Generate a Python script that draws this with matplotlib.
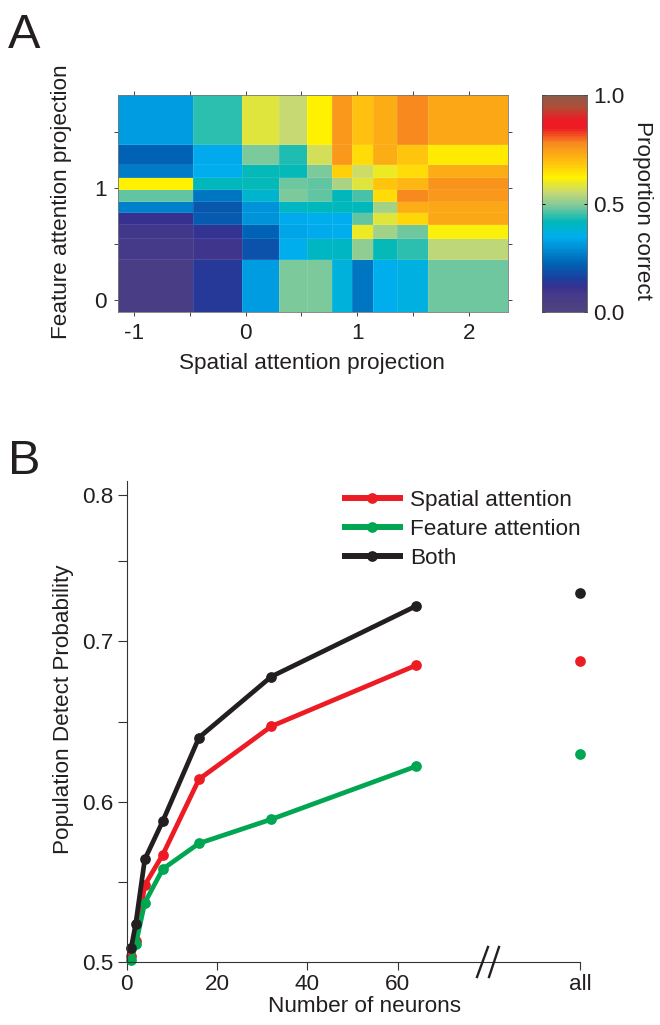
import numpy as np
import matplotlib
matplotlib.use("Agg")
import matplotlib.pyplot as plt
from matplotlib.colors import LinearSegmentedColormap
from matplotlib.lines import Line2D

plt.rcParams['font.family'] = ['Liberation Sans', 'DejaVu Sans']
W, H = 660, 1025
INK = '#231f20'
FS = 16.2

# Panel A data
x_edges = [-1.143, -0.472, -0.033, 0.301, 0.546, 0.773, 0.952, 1.137, 1.352, 1.633, 2.349]
y_edges = [-0.107, 0.364, 0.552, 0.684, 0.788, 0.889, 0.997, 1.096, 1.212, 1.394, 1.833]
row_0 = [.05, .14, .32, .49, .49, .37, .25, .35, .36, .48]
row_1 = [.08, .10, .19, .35, .40, .40, .50, .42, .44, .54]
row_2 = [.09, .12, .22, .33, .34, .35, .60, .52, .48, .61]
row_3 = [.11, .21, .30, .34, .35, .35, .47, .58, .66, .73]
row_4 = [.27, .20, .30, .40, .41, .41, .41, .52, .72, .73]
row_5 = [.47, .25, .39, .49, .47, .41, .46, .65, .78, .75]
row_6 = [.62, .41, .42, .48, .47, .53, .58, .68, .71, .76]
row_7 = [.26, .35, .42, .42, .49, .67, .56, .60, .65, .72]
row_8 = [.22, .34, .49, .43, .57, .75, .65, .72, .68, .63]
row_9 = [.32, .44, .58, .55, .62, .75, .69, .72, .78, .73]
rows = [row_0, row_1, row_2, row_3, row_4, row_5, row_6, row_7, row_8, row_9]

# Panel B data
neurons = [1, 2, 4, 8, 16, 32, 64]
spatial = [.504, .513, .548, .567, .614, .647, .685]
feature = [.501, .511, .537, .558, .574, .589, .622]
both = [.509, .524, .564, .588, .640, .678, .722]
all_pos = 100.3
all_spatial, all_feature, all_both = .688, .630, .730

cmap = LinearSegmentedColormap.from_list('muted_jet', [
    (0.00, '#4f4380'), (0.08, '#453a8a'), (0.11, '#38308f'), (0.15, '#1b3f9e'),
    (0.22, '#0062b4'), (0.28, '#0087d0'), (0.345, '#00aeef'), (0.415, '#00b8b8'),
    (0.49, '#7fc99b'), (0.55, '#c5d975'), (0.62, '#fff200'), (0.69, '#ffc20e'),
    (0.78, '#f7891f'), (0.85, '#ed1c24'), (0.89, '#ed1c24'), (0.95, '#ad4e37'),
    (1.00, '#8d5a4a')], N=128)


def rect(l, t, r, b):
    return [l / W, 1 - b / H, (r - l) / W, (b - t) / H]


def ft(x, y, s, **kw):
    kw.setdefault('color', INK)
    fig.text(x / W, 1 - y / H, s, **kw)


fig = plt.figure(figsize=(W / 100, H / 100), dpi=100)

# Panel A heatmap
ax = fig.add_axes(rect(118, 95, 508, 312))
ax.pcolormesh(x_edges, y_edges, np.array(rows), cmap=cmap, vmin=0, vmax=1,
              edgecolors=(1, 1, 1, 0.10), linewidth=0.5)
ax.set_xlim(x_edges[0], x_edges[-1])
ax.set_ylim(y_edges[0], y_edges[-1])
ax.set_xticks([-1, 0, 1, 2])
ax.set_xticks([-0.5, 0.5, 1.5], minor=True)
ax.set_yticks([0, 1])
ax.set_yticks([0.5, 1.5], minor=True)
ax.set_xticklabels(['-1', '0', '1', '2'])
for which in ('major', 'minor'):
    ax.tick_params(which=which, direction='out', top=True, right=True, length=3,
                   width=0.7, color='#444444')
ax.tick_params(which='major', labelsize=FS, labelcolor=INK, pad=5)
for s in ax.spines.values():
    s.set_linewidth(0.6)
    s.set_color('#777777')

# Colorbar
cax = fig.add_axes(rect(542, 95, 587, 312))
levels = np.linspace(0, 1, 129)
cax.pcolormesh([0, 1], levels, ((levels[:-1] + levels[1:]) / 2)[:, None], cmap=cmap,
               vmin=0, vmax=1)
cax.set_xticks([])
cax.set_yticks([0, 0.5, 1])
cax.set_yticklabels(['0.0', '0.5', '1.0'])
cax.yaxis.tick_right()
cax.tick_params(axis='y', direction='in', left=True, right=True, length=2, width=0.7,
                labelsize=FS, labelcolor=INK, pad=4.5)
for s in cax.spines.values():
    s.set_linewidth(0.6)
    s.set_color('#555555')

ft(312, 363, 'Spatial attention projection', fontsize=FS, ha='center', va='center')
ft(62, 202, 'Feature attention projection', fontsize=FS, rotation=90, ha='center', va='center')
ft(642, 210, 'Proportion correct', fontsize=FS, rotation=270, ha='center', va='center')
ft(24, 35, 'A', fontsize=35, ha='center', va='center')
ft(24, 461, 'B', fontsize=35, ha='center', va='center')

# Panel B
bx = fig.add_axes(rect(126.7, 481, 580, 962))
bx.patch.set_alpha(0)
series = [(spatial, all_spatial, '#ed1c24', 'Spatial attention'),
          (feature, all_feature, '#00a651', 'Feature attention'),
          (both, all_both, INK, 'Both')]
for vals, all_val, color, label in series:
    bx.plot(neurons, vals, '-o', color=color, lw=3.4, ms=6.7, clip_on=False,
            solid_capstyle='round', label=label)
    bx.plot([all_pos], [all_val], 'o', color=color, ms=6.7, clip_on=False)
bx.set_xlim(0, all_pos)
bx.set_ylim(0.5, 0.8)
bx.spines['top'].set_visible(False)
bx.spines['right'].set_visible(False)
bx.set_xticks([0, 20, 40, 60, all_pos])
bx.set_xticklabels(['0', '20', '40', '60', 'all'])
bx.set_yticks([0.5, 0.6, 0.7, 0.791])
bx.set_yticklabels(['0.5', '0.6', '0.7', '0.8'])
bx.set_yticks([0.55, 0.65, 0.75], minor=True)
bx.tick_params(axis='y', which='both', length=6.3, width=0.8, color='#333333')
bx.tick_params(axis='x', which='both', length=5.5, width=0.8, color='#333333')
bx.tick_params(axis='y', which='major', labelsize=FS, labelcolor=INK, pad=3)
bx.tick_params(axis='x', which='major', labelsize=FS, labelcolor=INK, pad=3)
for s in ('left', 'bottom'):
    bx.spines[s].set_linewidth(0.8)
    bx.spines[s].set_color('#333333')

leg = fig.legend(*bx.get_legend_handles_labels(), loc='upper left',
                 bbox_to_anchor=(342 / W, 1 - 490 / H), frameon=False, fontsize=FS,
                 handlelength=2.71, handletextpad=0.31, labelspacing=0.36,
                 borderpad=0, borderaxespad=0, numpoints=1)
for t in leg.get_texts():
    t.set_color(INK)
for h in leg.get_lines():
    h.set_linewidth(4.3)
    h.set_solid_capstyle('butt')

for x0, x1 in [(477, 488), (489, 499)]:
    fig.add_artist(Line2D([x0 / W, x1 / W], [1 - 977 / H, 1 - 947 / H], color=INK, lw=1.7))

ft(364.5, 1006, 'Number of neurons', fontsize=FS, ha='center', va='center')
ft(64, 709, 'Population Detect Probability', fontsize=FS, rotation=90, ha='center', va='center')

fig.savefig('out.png', dpi=100)
